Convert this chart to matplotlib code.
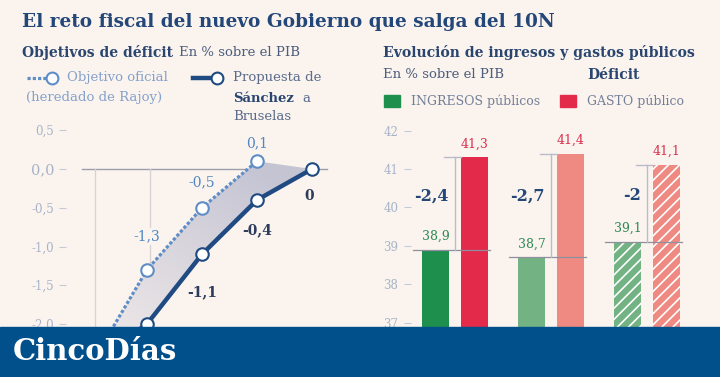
import numpy as np
import matplotlib.pyplot as plt
from matplotlib.patches import Rectangle, Polygon
from matplotlib.lines import Line2D

## datos
years = [2018, 2019, 2020, 2021, 2022]
oficial = [-2.5, -1.3, -0.5, 0.1]          # objetivo oficial (Rajoy)
sanchez = [-2.5, -2.0, -1.1, -0.4, 0.0]    # propuesta de Sanchez
left_ticks = [0.5, 0.0, -0.5, -1.0, -1.5, -2.0]

groups = ['2018', '2019', '2020']
ingresos = [38.9, 38.7, 39.1]
gastos = [41.3, 41.4, 41.1]
right_ticks = [37, 38, 39, 40, 41, 42]

W, H = 720, 377
BG = '#fbf4ee'
plt.rcParams['font.family'] = 'DejaVu Serif'

def fx(px):
    return px / W

def fy(py):
    return 1 - py / H

def fmt(v):
    return ('%g' % round(v, 1)).replace('.', ',')

fig = plt.figure(figsize=(7.2, 3.77), dpi=100, facecolor=BG)

## titulos
fig.text(fx(22), fy(22), 'El reto fiscal del nuevo Gobierno que salga del 10N',
         fontsize=13.3, fontweight='bold', color='#24477a', va='center')
fig.text(fx(22), fy(52), 'Objetivos de déficit', fontsize=10, fontweight='bold',
         color='#2a4670', va='center')
fig.text(fx(179), fy(52), 'En % sobre el PIB', fontsize=9.5, color='#4c5d7e', va='center')
fig.text(fx(383), fy(52), 'Evolución de ingresos y gastos públicos', fontsize=10.1,
         fontweight='bold', color='#2a4670', va='center')
fig.text(fx(383), fy(74), 'En % sobre el PIB', fontsize=9.5, color='#4c5d7e', va='center')
fig.text(fx(587), fy(75), 'Déficit', fontsize=10, fontweight='bold', color='#2a4670', va='center')

## leyenda izquierda
c_of = '#5f8ec6'
c_sa = '#1f4a82'
dots = (0, (1, 0.65))
fig.add_artist(Line2D([fx(27), fx(46)], [fy(78), fy(78)], color=c_of, lw=2.3, linestyle=dots))
fig.add_artist(Line2D([fx(52)], [fy(78)], marker='o', ms=8.5, mfc='white', mec=c_of, mew=1.5))
fig.text(fx(67), fy(78), 'Objetivo oficial', fontsize=9.5, color='#85a2cc', va='center')
fig.text(fx(26), fy(97), '(heredado de Rajoy)', fontsize=9.5, color='#85a2cc', va='center')
fig.add_artist(Line2D([fx(193), fx(214)], [fy(78), fy(78)], color=c_sa, lw=3.2))
fig.add_artist(Line2D([fx(217)], [fy(78)], marker='o', ms=8.5, mfc='white', mec=c_sa, mew=1.5))
fig.text(fx(233), fy(78), 'Propuesta de', fontsize=9.5, color='#5a6b8c', va='center')
fig.text(fx(233), fy(98), 'Sánchez', fontsize=9.5, fontweight='bold', color='#2a4670', va='center')
fig.text(fx(302), fy(98), 'a', fontsize=9.5, color='#5a6b8c', va='center')
fig.text(fx(233), fy(117), 'Bruselas', fontsize=9.5, color='#5a6b8c', va='center')

## leyenda derecha
fig.add_artist(Rectangle((fx(384), fy(107)), fx(16), 12 / H, transform=fig.transFigure,
                         color='#1f8f4e'))
fig.text(fx(411), fy(101), 'INGRESOS públicos', fontsize=9, color='#737f98', va='center')
fig.add_artist(Rectangle((fx(560), fy(107)), fx(16), 12 / H, transform=fig.transFigure,
                         color='#e42a4b'))
fig.text(fx(587), fy(101), 'GASTO público', fontsize=9, color='#737f98', va='center')

## grafico izquierdo
ppx, ppy = 55.0, 77.5
ax1 = fig.add_axes([fx(66), 0, fx(340 - 66), fy(120)])
ax1.set_facecolor('none')
ax1.set_xlim(2019 - (147 - 66) / ppx, 2019 + (340 - 147) / ppx)
ax1.set_ylim(-(377 - 169) / ppy, (169 - 120) / ppy)
for s in ax1.spines.values():
    s.set_visible(False)
ax1.set_xticks([])
ax1.set_yticks(left_ticks)
ax1.set_yticklabels([('%.1f' % t).replace('.', ',') if t != 0 else '0,0' for t in left_ticks])
ax1.tick_params(axis='y', length=5, width=0.8, color='#c3cad8', pad=3.5,
                labelsize=8.5, labelcolor='#a7b3c9')
for lab, t in zip(ax1.get_yticklabels(), left_ticks):
    if t == 0:
        lab.set_fontsize(10.5)

# lineas de referencia
ax1.plot([years[0] - 0.18, years[-1] + 0.28], [0, 0], color='#9d9db0', lw=1, zorder=1)
ax1.plot([years[0] + 0.05] * 2, [0, -3], color='#d8d2d2', lw=1, zorder=1)
ax1.plot([years[1] + 0.05] * 2, [0, oficial[1]], color='#d8d2d2', lw=1, zorder=1)

# area entre curvas con degradado
n_of = len(oficial)
poly_xy = np.column_stack([years[:n_of] + years[::-1], oficial + sanchez[::-1]])
poly = Polygon(poly_xy, closed=True, facecolor='none', edgecolor='none')
ax1.add_patch(poly)
gx, gy = np.meshgrid(np.linspace(0, 1, 200), np.linspace(0, 1, 200))
g = np.clip((gx * 0.6 + (1 - gy) * 0.8) / 1.2, 0, 1)
c1 = np.array([0.965, 0.937, 0.925])
c2 = np.array([0.775, 0.772, 0.83])
img = c1[None, None, :] * (1 - g[..., None]) + c2[None, None, :] * g[..., None]
im = ax1.imshow(img, extent=[2017.8, 2022.1, -2.7, 0.15], origin='upper', aspect='auto',
                zorder=2, interpolation='bilinear')
im.set_clip_path(poly)

ax1.plot(years[:n_of], oficial, color=c_of, lw=2.3, linestyle=dots, zorder=3)
ax1.plot(years, sanchez, color=c_sa, lw=3.2, zorder=4)
ax1.plot(years[:n_of], oficial, 'o', ms=9, mfc='white', mec=c_of, mew=1.5, zorder=5)
ax1.plot(years, sanchez, 'o', ms=9, mfc='white', mec=c_sa, mew=1.5, zorder=6)

# etiquetas (las de -2 o menos quedan bajo la banda)
of_off = [25, 33, 25, 18]
for yr, v, off in zip(years[:n_of], oficial, of_off):
    if v > -2:
        ax1.annotate(fmt(v), (yr, v), xytext=(0, off), textcoords='offset pixels',
                     ha='center', va='center', fontsize=10, color='#4f86c4',
                     bbox=dict(boxstyle='square,pad=0.1', fc=BG, ec='none'))
sa_off = [-30, -30, -38, -30, -27]
for yr, v, off in zip(years, sanchez, sa_off):
    if v > -2:
        ax1.annotate(fmt(v), (yr, v), xytext=(-3 if v == 0 else 0, off),
                     textcoords='offset pixels', ha='center', va='center', fontsize=10,
                     fontweight='semibold', color='#2d3c5c')

## grafico derecho
bpx, bpy = 96.0, 38.4
ax2 = fig.add_axes([fx(411), 0, fx(710 - 411), fy(120)])
ax2.set_facecolor('none')
ax2.set_xlim(-(455 - 411) / bpx, (710 - 455) / bpx)
ax2.set_ylim(41 - (377 - 169) / bpy, 41 + (169 - 120) / bpy)
for s in ax2.spines.values():
    s.set_visible(False)
ax2.set_xticks([])
ax2.set_yticks(right_ticks)
ax2.set_yticklabels([str(t) for t in right_ticks])
ax2.tick_params(axis='y', length=5, width=0.8, color='#c3cad8', pad=4,
                labelsize=8.5, labelcolor='#a7b3c9')

plt.rcParams['hatch.linewidth'] = 1.2
bw = 27 / bpx
off = 19.5 / bpx
g_cols = ['#1f8f4e', '#72b283', '#72b283']
r_cols = ['#e42a4b', '#ef8a82', '#ef8a82']
hatches = [None, None, '///']
x = np.arange(len(groups))
for i in range(len(groups)):
    ax2.bar(x[i] - off, ingresos[i] - 30, bottom=30, width=bw, color=g_cols[i],
            hatch=hatches[i], edgecolor='white' if hatches[i] else g_cols[i], lw=0, zorder=2)
    ax2.bar(x[i] + off, gastos[i] - 30, bottom=30, width=bw, color=r_cols[i],
            hatch=hatches[i], edgecolor='white' if hatches[i] else r_cols[i], lw=0, zorder=2)
    # lineas del deficit
    ax2.plot([x[i] - off - bw / 2 - 9 / bpx, x[i] + off + bw / 2 + 2 / bpx],
             [ingresos[i], ingresos[i]], color='#8e8e9e', lw=0.9, zorder=3)
    ax2.plot([x[i], x[i]], [ingresos[i], gastos[i]], color='#b9bccb', lw=1, zorder=3)
    ax2.plot([x[i] - 11 / bpx, x[i] + off - bw / 2], [gastos[i], gastos[i]],
             color='#b9bccb', lw=1, zorder=3)
    ax2.annotate(fmt(ingresos[i]), (x[i] - off, ingresos[i]), xytext=(0, 5),
                 textcoords='offset points', ha='center', va='bottom', fontsize=9,
                 color='#2f8a55')
    ax2.annotate(fmt(gastos[i]), (x[i] + off, gastos[i]), xytext=(0, 5),
                 textcoords='offset points', ha='center', va='bottom', fontsize=9,
                 color='#d9304f')
    ax2.annotate(fmt(ingresos[i] - gastos[i]), (x[i], 40.3), xytext=(-6, 0),
                 textcoords='offset pixels', ha='right', va='center', fontsize=11.5,
                 fontweight='bold', color='#24477a')

## banda inferior
fig.add_artist(Rectangle((0, 0), 1, 50 / H, transform=fig.transFigure,
                         color='#01508b', zorder=10))
fig.text(fx(13), fy(351), 'CincoDías', fontsize=21, fontweight='bold', color='white',
         va='center', zorder=11)

fig.savefig('out.png', dpi=100, facecolor=BG)
